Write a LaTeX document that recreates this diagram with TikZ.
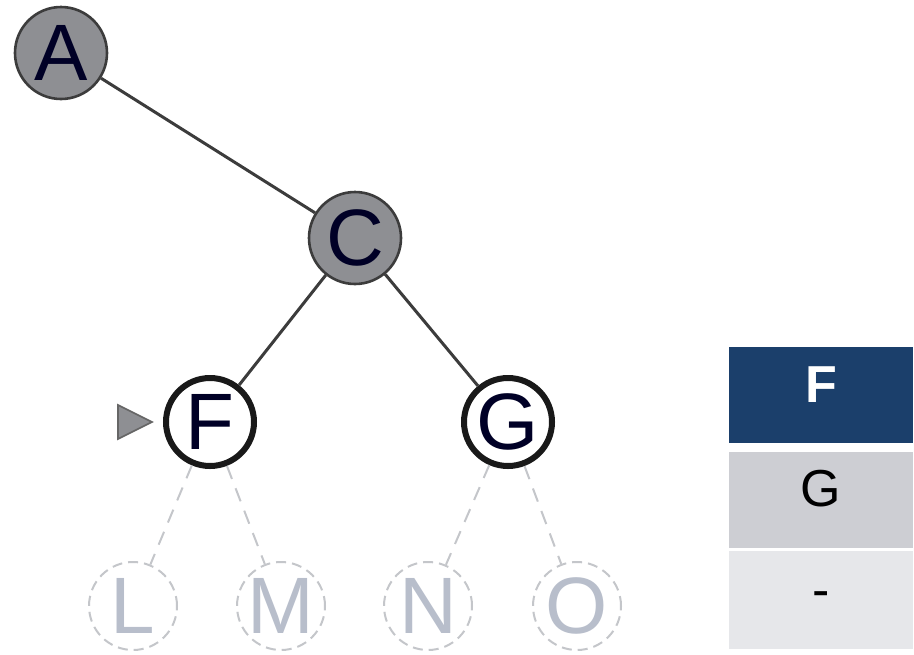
\documentclass[tikz,border=0pt]{standalone}
\usepackage{fontspec}
\setmainfont{Liberation Sans}
\definecolor{visitgray}{HTML}{8E8F93}
\definecolor{edgegray}{HTML}{3C3C3C}
\definecolor{ghost}{HTML}{C4C6CA}
\definecolor{ghosttext}{HTML}{B8BECB}
\definecolor{navy}{HTML}{1B3F6B}
\definecolor{rowmid}{HTML}{CDCED3}
\definecolor{rowlight}{HTML}{E6E7EA}
\begin{document}
\begin{tikzpicture}[x=0.5pt, y=-0.5pt, font=\fontsize{40}{42}\selectfont]
        \tikzstyle{visited} = [circle, draw=edgegray, line width=1.3pt, fill=visitgray,
                              text=black!85!blue, minimum size=46pt, inner sep=0pt]
        \tikzstyle{current} = [circle, draw=black!90, line width=3pt, fill=white,
                              text=black!85!blue, minimum size=44pt, inner sep=0pt]
        \tikzstyle{unseen} = [circle, draw=ghost, line width=1pt, dash pattern=on 5pt off 3pt,
                             fill=white, text=ghosttext, minimum size=44pt, inner sep=0pt]
        \tikzstyle{cell} = [rectangle, minimum width=92pt, minimum height=48pt, inner sep=0pt,
                           text height=19pt, text depth=12pt, font=\fontsize{26}{28}\selectfont]
        \useasboundingbox (0,0) rectangle (914,654);

        % Arbre
        \node[visited] (A) at (61,53) {A};
        \node[visited] (C) at (355,238) {C};
        \node[current] (F) at (210,422) {F};
        \node[current] (G) at (508,422) {G};
        \node[unseen] (L) at (133,606) {L};
        \node[unseen] (M) at (281,606) {M};
        \node[unseen] (N) at (428,606) {N};
        \node[unseen] (O) at (577,606) {O};

        % Arêtes
        \draw[edgegray, line width=1.5pt] (A) -- (C);
        \draw[edgegray, line width=1.5pt] (C) -- (F);
        \draw[edgegray, line width=1.5pt] (C) -- (G);
        \draw[ghost, line width=1pt, dash pattern=on 7pt off 5pt] (F) -- (L);
        \draw[ghost, line width=1pt, dash pattern=on 7pt off 5pt] (F) -- (M);
        \draw[ghost, line width=1pt, dash pattern=on 7pt off 5pt] (G) -- (N);
        \draw[ghost, line width=1pt, dash pattern=on 7pt off 5pt] (G) -- (O);

        % Pointeur
        \filldraw[fill=visitgray, draw=black!60, line width=0.8pt]
            ([xshift=-22.5pt, yshift=8.5pt]F.west) -- ([xshift=-5.5pt]F.west)
            -- ([xshift=-22.5pt, yshift=-8.5pt]F.west) -- cycle;

        % File
        \node[cell, fill=navy, text=white, font=\fontsize{26}{28}\bfseries] (q1) at (821,395) {F};
        \node[cell, fill=rowmid] (q2) at (821,499.5) {G};
        \node[cell, fill=rowlight, minimum height=49pt] (q3) at (821,600) {-};
\end{tikzpicture}
\end{document}
